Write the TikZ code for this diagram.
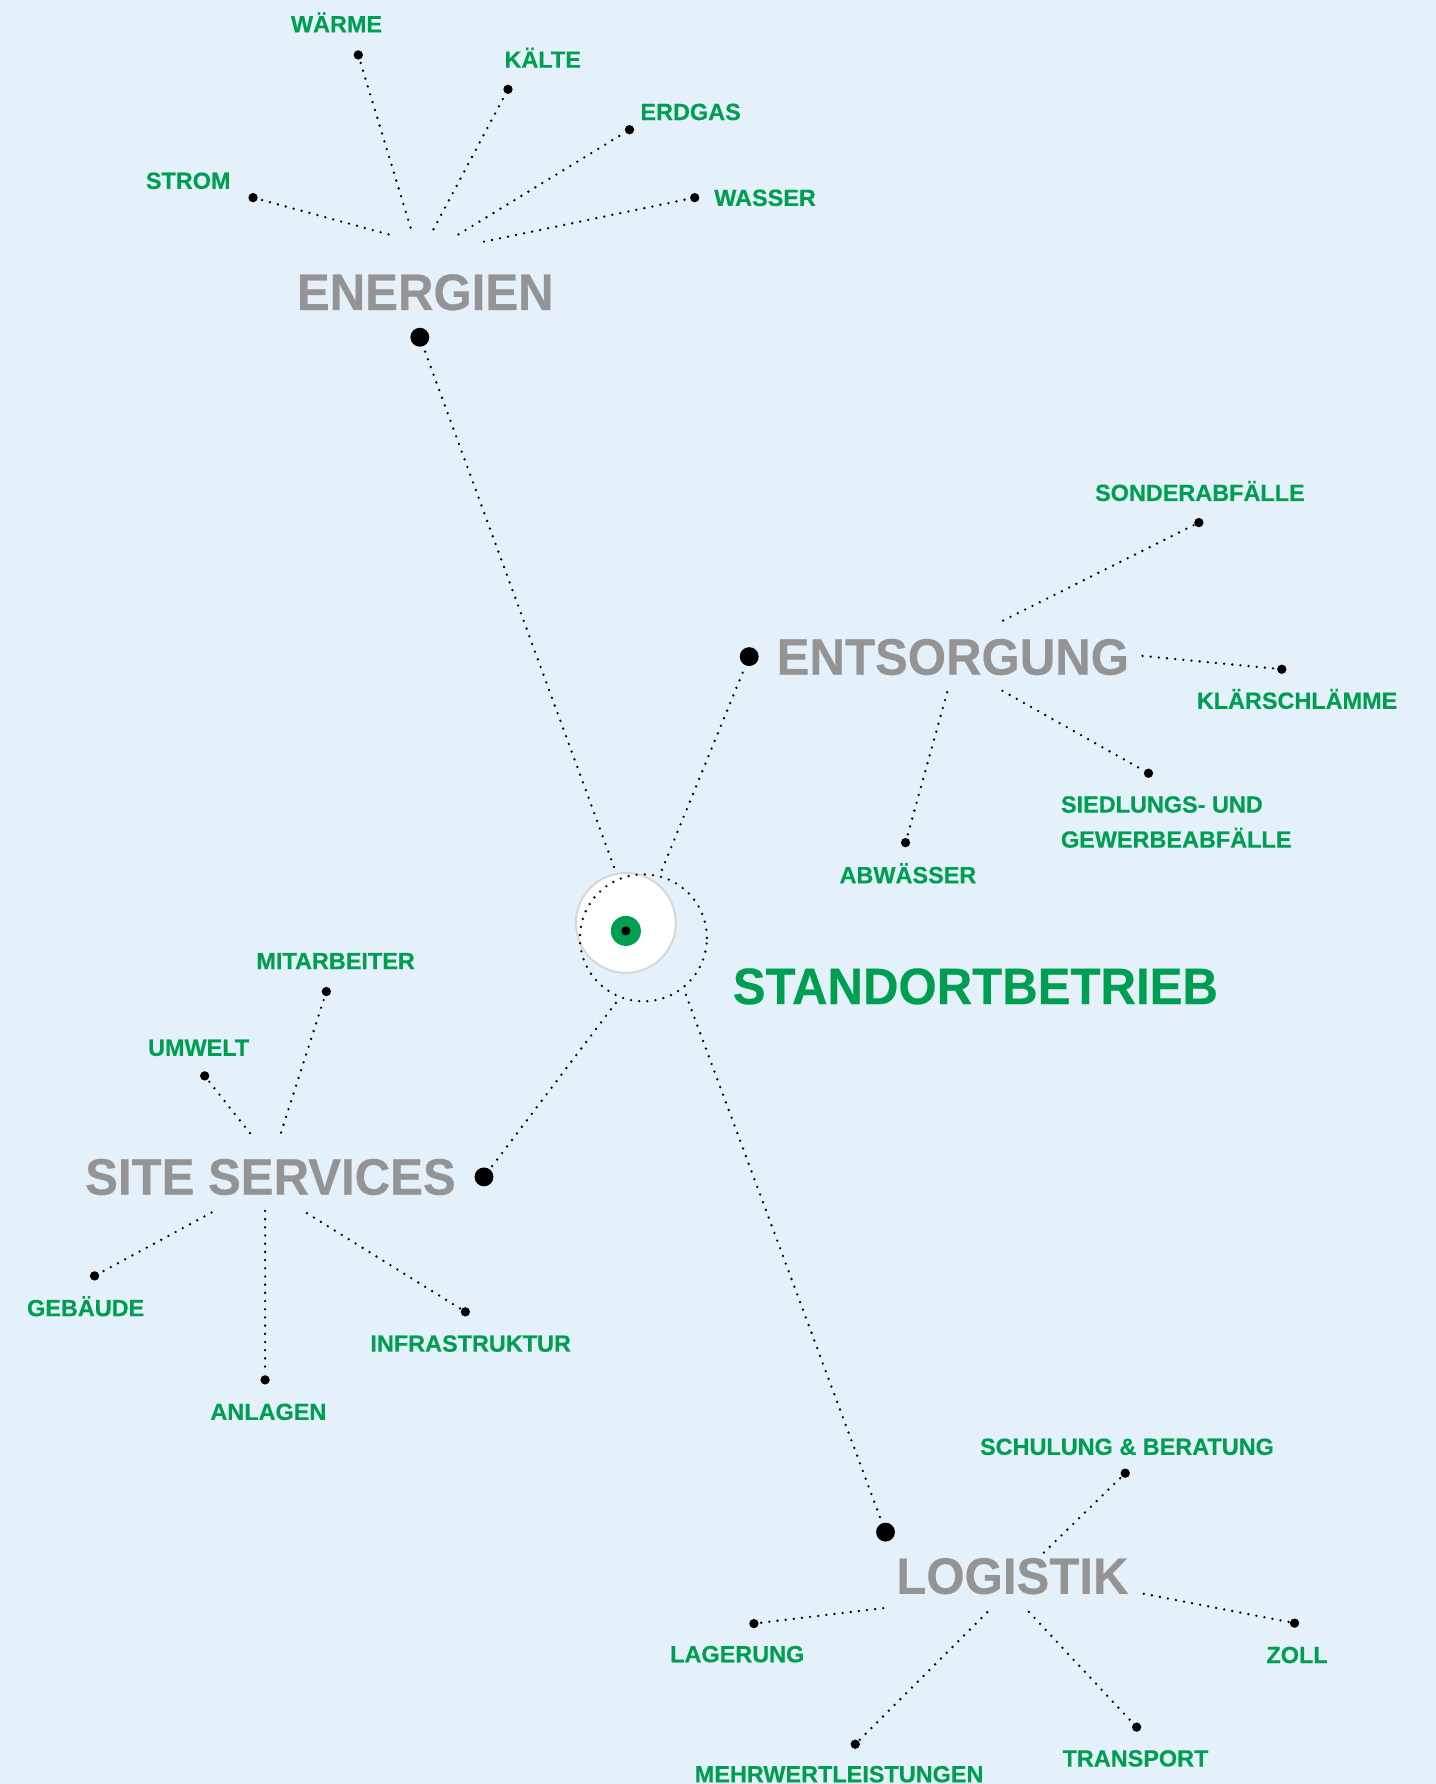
\documentclass[tikz,border=0pt]{standalone}
\usepackage{fontspec}
\setmainfont{Liberation Sans}[BoldFeatures={FakeBold=0.4}]
\newfontfamily\titlefont{Liberation Sans}[FakeStretch=0.96,BoldFeatures={FakeBold=0.4}]
\definecolor{bg}{RGB}{228,241,250}
\definecolor{sgreen}{RGB}{0,158,80}
\definecolor{tgray}{RGB}{148,148,148}
\definecolor{ringgray}{RGB}{215,215,215}
\begin{document}
\begin{tikzpicture}[x=0.5pt,y=-0.5pt,
  hubtitle/.style={anchor=base,inner sep=0pt,text=tgray,font=\titlefont\bfseries\fontsize{22.5pt}{27pt}\selectfont},
  leaf/.style={anchor=base,inner sep=0pt,text=sgreen,font=\bfseries\fontsize{10.3pt}{12pt}\selectfont},
  hubdot/.style={circle,fill=black,inner sep=0pt,minimum size=8.3pt},
  enddot/.style={circle,fill=black,inner sep=0pt,minimum size=4.1pt},
  dotline/.style={line width=1.15pt,line cap=round,dash pattern=on 0pt off 3.6pt,draw=black},
]
\useasboundingbox (0,0) rectangle (1262,1568);
\clip (0,0) rectangle (1262,1568);
\fill[bg] (0,0) rectangle (1262,1568);

% ---------- centre ----------
\node[circle,fill=white,draw=ringgray,line width=0.9pt,inner sep=0pt,minimum size=43.9pt] (wc) at (550.1,811.2) {};
\node[circle,fill=sgreen,inner sep=0pt,minimum size=13.2pt] (gd) at (550.1,818.2) {};
\node[circle,fill=black,inner sep=0pt,minimum size=4pt] (bd) at (550.1,818.2) {};
\node[circle,dotline,inner sep=0pt,minimum size=55.8pt] (dc) at (565.5,824.3) {};
\node[hubtitle,text=sgreen] (tSB) at (857.3,882.5) {STANDORTBETRIEB};

% ---------- hubs ----------
\node[hubdot] (hE) at (369,296.4) {};
\node[hubdot] (hN) at (658.5,577.1) {};
\node[hubdot] (hS) at (425.4,1034.4) {};
\node[hubdot] (hL) at (778.3,1346.6) {};
\coordinate (cE) at (539.6,762);
\coordinate (cN) at (581.8,764.5);
\coordinate (cS) at (541.3,881.4);
\coordinate (cL) at (602.9,874.4);
\draw[dotline] (cE) -- (hE);
\draw[dotline] (cN) -- (hN);
\draw[dotline] (cS) -- (hS);
\draw[dotline] (cL) -- (hL);

% ---------- ENERGIEN ----------
\node[hubtitle] (tE) at (373.8,272.4) {ENERGIEN};
\coordinate (aE1) at (341.5,206);   \node[enddot] (dE1) at (222.4,173.7) {}; \node[leaf] (lE1) at (165.4,166) {STROM};
\coordinate (aE2) at (360.8,200);   \node[enddot] (dE2) at (314.9,48.3) {};  \node[leaf] (lE2) at (295.8,28.4) {WÄRME};
\coordinate (aE3) at (381,201.5);   \node[enddot] (dE3) at (446.5,78.5) {};  \node[leaf] (lE3) at (477,59.5) {KÄLTE};
\coordinate (aE4) at (403,206);     \node[enddot] (dE4) at (553.3,114) {};   \node[leaf] (lE4) at (607,105.5) {ERDGAS};
\coordinate (aE5) at (425.4,212.4); \node[enddot] (dE5) at (610.6,173.7) {}; \node[leaf] (lE5) at (672.4,181) {WASSER};
\foreach \i in {1,...,5} \draw[dotline] (aE\i) -- (dE\i);

% ---------- ENTSORGUNG ----------
\node[hubtitle] (tN) at (837.5,593) {ENTSORGUNG};
\coordinate (aN1) at (881.7,545.4);  \node[enddot] (dN1) at (1053.7,459.3) {}; \node[leaf] (lN1) at (1054.6,440.3) {SONDERABFÄLLE};
\coordinate (aN2) at (1004.2,576.5); \node[enddot] (dN2) at (1126.6,588.2) {}; \node[leaf] (lN2) at (1140,623) {KLÄRSCHLÄMME};
\coordinate (aN3) at (881.1,607.2);  \node[enddot] (dN3) at (1009.4,679.6) {};
\node[leaf,anchor=base west] (lN3a) at (932.1,714.2) {SIEDLUNGS- UND};
\node[leaf,anchor=base west] (lN3b) at (932.1,745) {GEWERBEABFÄLLE};
\coordinate (aN4) at (832.5,608.4);  \node[enddot] (dN4) at (795.9,740.6) {}; \node[leaf] (lN4) at (798,776.3) {ABWÄSSER};
\foreach \i in {1,...,4} \draw[dotline] (aN\i) -- (dN\i);

% ---------- SITE SERVICES ----------
\node[hubtitle] (tS) at (237.7,1050) {SITE SERVICES};
\coordinate (aS1) at (247,995.4);    \node[enddot] (dS1) at (286.8,871.5) {}; \node[leaf] (lS1) at (295,851.8) {MITARBEITER};
\coordinate (aS2) at (219.7,996);    \node[enddot] (dS2) at (179.9,945.6) {}; \node[leaf] (lS2) at (174.6,928) {UMWELT};
\coordinate (aS3) at (186,1065.7);   \node[enddot] (dS3) at (83.1,1121.4) {}; \node[leaf] (lS3) at (75.3,1156.8) {GEBÄUDE};
\coordinate (aS4) at (233,1064.3);   \node[enddot] (dS4) at (233,1212.8) {};  \node[leaf] (lS4) at (235.9,1248) {ANLAGEN};
\coordinate (aS5) at (269.8,1066.3); \node[enddot] (dS5) at (409,1153) {};    \node[leaf] (lS5) at (413.7,1188) {INFRASTRUKTUR};
\foreach \i in {1,...,5} \draw[dotline] (aS\i) -- (dS\i);

% ---------- LOGISTIK ----------
\node[hubtitle] (tL) at (889.8,1400.8) {LOGISTIK};
\coordinate (aL1) at (917.5,1364.5);  \node[enddot] (dL1) at (989,1294.8) {};   \node[leaf] (lL1) at (990.5,1278.7) {SCHULUNG \& BERATUNG};
\coordinate (aL2) at (1005.3,1400.8); \node[enddot] (dL2) at (1137.8,1426.6) {}; \node[leaf] (lL2) at (1140,1461.7) {ZOLL};
\coordinate (aL3) at (904.3,1416.7);  \node[enddot] (dL3) at (999,1518) {};     \node[leaf] (lL3) at (998,1552.6) {TRANSPORT};
\coordinate (aL4) at (867.7,1417);    \node[enddot] (dL4) at (751.7,1533) {};   \node[leaf] (lL4) at (737.5,1566.5) {MEHRWERTLEISTUNGEN};
\coordinate (aL5) at (776.3,1413.4);  \node[enddot] (dL5) at (662.6,1427) {};   \node[leaf] (lL5) at (648,1461) {LAGERUNG};
\foreach \i in {1,...,5} \draw[dotline] (aL\i) -- (dL\i);
\end{tikzpicture}
\end{document}
